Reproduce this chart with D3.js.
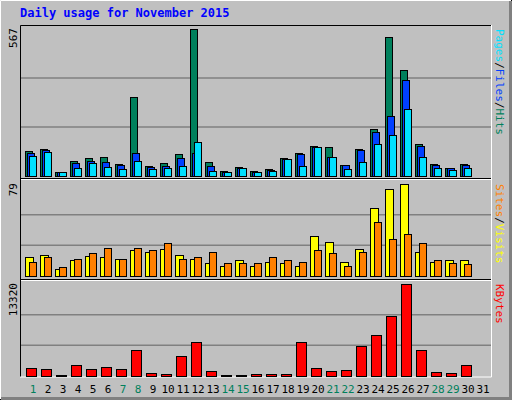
<!DOCTYPE html><html><head><meta charset="utf-8">
<script src="https://cdn.jsdelivr.net/npm/d3@7"></script>
<style>body{margin:0;background:#fff}svg{display:block}text{font-family:"DejaVu Sans Mono",monospace}</style>
</head><body><svg id="c" width="512" height="400"></svg>
<script>
const days = d3.range(1,32);
const weekend = [1,7,8,14,15,21,22,28,29];
const hits  = [95,106,14,56,68,72,45,303,37,49,83,567,53,18,33,18,26,68,87,114,110,41,106,183,537,410,122,45,30,45,0];
const files = [90,99,14,51,56,53,41,90,33,37,68,87,37,14,30,14,22,64,83,110,72,41,99,168,233,372,114,41,30,41,0];
const pages = [76,91,14,30,49,33,26,56,26,30,37,130,18,14,30,14,18,64,37,110,72,26,53,122,157,260,72,30,22,30,0];
const sites = [16,18,6,14,17,16,15,22,21,23,18,15,11,9,14,9,12,11,9,34,29,12,23,58,75,79,21,12,14,14,0];
const visits= [12,16,8,15,20,24,15,24,22,28,15,16,21,11,11,11,16,14,12,22,20,9,21,46,32,36,28,14,11,10,0];
const kbytes= [1215,1070,195,1650,1070,1360,1070,3695,486,340,2965,4860,780,195,195,340,340,340,4860,1215,780,925,4280,5880,8650,13320,3695,630,486,1650,0];
const maxes = {hits:567, sites:79, kbytes:13320};

const svg = d3.select("#c");
svg.append("rect").attr("width",512).attr("height",400).attr("fill","#c0c0c0");
svg.append("path").attr("d","M0,399.5H511.5V0").attr("fill","none").attr("stroke","#000");
svg.append("path").attr("d","M1,398.5H510.5V1").attr("fill","none").attr("stroke","#808080").attr("stroke-width",3);
svg.append("path").attr("d","M0.5,399V0.5H511").attr("fill","none").attr("stroke","#fff");

svg.append("text").attr("x",20).attr("y",17).attr("fill","#0000ff").attr("font-weight","bold").attr("font-size",12)
  .text("Daily usage for November 2015");

const x = d3.scaleLinear().domain([1,32]).range([25,490]);
const L=20,R=491;
// panel frames
svg.append("path").attr("d",`M${L+.5},377V25.5H${R}`).attr("stroke","#000").attr("fill","none");
svg.append("path").attr("d",`M${R+.5},25V377H${L}`).attr("stroke","#fff").attr("fill","none");
[[179.5,"#fff"],[280.5,"#fff"],[178.5,"#000"],[279.5,"#000"]].forEach(([y,c])=>
  svg.append("line").attr("x1",L+1).attr("x2",R).attr("y1",y).attr("y2",y).attr("stroke",c));

function panel(base,top,max,series,label,legend){
  const y = d3.scaleLinear().domain([0,max]).range([base,top]);
  const step=(base-top)/3;
  [1,2].forEach(i=>svg.append("line").attr("x1",L+1).attr("x2",R).attr("y1",base-step*i).attr("y2",base-step*i)
     .attr("stroke","#808080").attr("stroke-width",1.5));
  series.forEach(s=>{
    svg.append("g").selectAll("rect").data(days.filter(d=>s.v[d-1]>0)).join("rect")
      .attr("x",d=>x(d)+s.off+.5).attr("width",s.w)
      .attr("y",d=>Math.round(y(s.v[d-1]))+.5).attr("height",d=>base-Math.round(y(s.v[d-1])))
      .attr("fill",s.c).attr("stroke","#000");
  });
  svg.append("text").attr("transform",`translate(17,${top-1}) rotate(-90)`).attr("text-anchor","end")
    .attr("font-size",11).text(label);
  const t=svg.append("text").attr("transform",`translate(496,${top}) rotate(90)`).attr("font-size",11);
  legend.forEach((p,i)=>{ if(i) t.append("tspan").attr("fill","#000").text("/");
    t.append("tspan").attr("fill",p[1]).text(p[0]);});
}
panel(176,29,maxes.hits,[
  {v:hits,off:0,w:7,c:"#00805c"},{v:files,off:2,w:7,c:"#0040ff"},{v:pages,off:4,w:7,c:"#00e0ff"}],
  String(maxes.hits),[["Hits","#00805c"],["Files","#0040ff"],["Pages","#00e0ff"]].reverse());
panel(276,184,maxes.sites,[{v:sites,off:0,w:8,c:"#ffff00"},{v:visits,off:4,w:7,c:"#ff8000"}],
  String(maxes.sites),[["Sites","#ff8000"],["Visits","#ffff00"]]);
panel(376,284,maxes.kbytes,[{v:kbytes,off:1,w:10,c:"#ff0000"}],String(maxes.kbytes),[["KBytes","#ff0000"]]);

svg.append("g").selectAll("text").data(days).join("text")
  .attr("x",d=>x(d)+8).attr("y",393).attr("text-anchor","middle").attr("font-size",11)
  .attr("fill",d=>weekend.includes(d)?"#00805c":"#000").text(d=>d);
</script></body></html>
